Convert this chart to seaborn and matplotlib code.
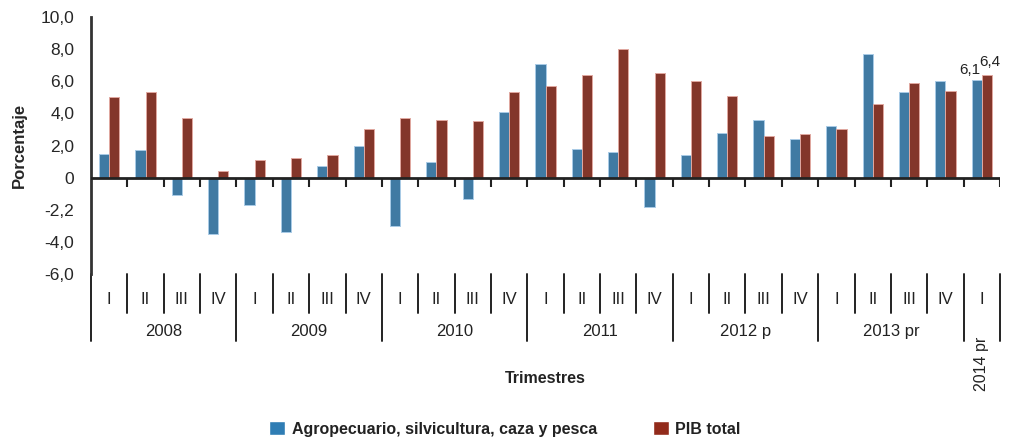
import numpy as np
import pandas as pd
import matplotlib
matplotlib.use("Agg")
import matplotlib.pyplot as plt
from matplotlib.patches import Patch
import seaborn as sns


# data
quarters = ["I", "II", "III", "IV"] * 6 + ["I"]
years = ["2008", "2009", "2010", "2011", "2012 p", "2013 pr", "2014 pr"]
agro = [1.5, 1.7, -1.1, -3.5, -1.7, -3.4, 0.7, 2.0,
        -3.0, 1.0, -1.3, 4.1, 7.1, 1.8, 1.6, -1.8,
        1.4, 2.8, 3.6, 2.4, 3.2, 7.7, 5.3, 6.0, 6.1]
pib = [5.0, 5.3, 3.7, 0.4, 1.1, 1.2, 1.4, 3.0,
       3.7, 3.6, 3.5, 5.3, 5.7, 6.4, 8.0, 6.5,
       6.0, 5.1, 2.6, 2.7, 3.0, 4.6, 5.9, 5.4, 6.4]
series_names = ["Agropecuario, silvicultura, caza y pesca", "PIB total"]
colors = ["#2f7db4", "#922b1b"]
edge_colors = ["#a9cbe6", "#e0a8a0"]
y_ticks = [-6, -4, -2, 0, 2, 4, 6, 8, 10]
y_tick_labels = ["-6,0", "-4,0", "-2,2", "0", "2,0", "4,0", "6,0", "8,0", "10,0"]

FONT = ["Liberation Sans Narrow", "Liberation Sans", "DejaVu Sans"]

sns.set_style("white")
plt.rcParams["font.family"] = FONT
plt.rcParams["text.color"] = "#222222"

n = len(agro)
labels = [f"q{i}" for i in range(n)]
df = pd.DataFrame({
    "x": labels * 2,
    "valor": agro + pib,
    "serie": [series_names[0]] * n + [series_names[1]] * n,
})

fig = plt.figure(figsize=(10.1, 4.4), dpi=100)
ax = fig.add_axes([91 / 1010, 1 - 274 / 440, (1000 - 91) / 1010, (274 - 17) / 440])

sns.barplot(data=df, x="x", y="valor", hue="serie", order=labels,
            palette=colors, width=0.56, gap=0, ax=ax, legend=False,
            linewidth=0.7)
# lighter outline like the original
for i, container in enumerate(ax.containers):
    for p in container:
        p.set_edgecolor(edge_colors[i])

ax.set_xlim(-0.5, n - 0.5)
ax.set_ylim(-6, 10)
ax.set_yticks(y_ticks)
ax.set_yticklabels(y_tick_labels, fontsize=12.5)
ax.tick_params(axis="y", direction="out", length=8, width=1.5, color="#333333", pad=4)
ax.set_xticks([])
ax.set_xlabel("")
ax.set_ylabel("Porcentaje", fontsize=12, fontweight="bold", labelpad=10)

for s in ["top", "right", "bottom"]:
    ax.spines[s].set_visible(False)
ax.spines["left"].set_color("#333333")
ax.spines["left"].set_linewidth(2)

# zero line and boundary ticks
ax.axhline(0, color="#222222", lw=2, zorder=3)
bounds = np.arange(-0.5, n, 1.0)
ax.vlines(bounds[1:], -0.56, 0, color="#222222", lw=1.5, zorder=3)

# category axis below the plot
tr = ax.get_xaxis_transform()
year_bounds = [-0.5, 3.5, 7.5, 11.5, 15.5, 19.5, 23.5, 24.5]
for b in np.arange(-0.5, n + 0.5, 1.0):
    if b in year_bounds:
        ax.plot([b, b], [0, -0.26], transform=tr, color="#222222", lw=1.4, clip_on=False)
    else:
        ax.plot([b, b], [0, -0.152], transform=tr, color="#222222", lw=1.4, clip_on=False)

for i, q in enumerate(quarters):
    ax.text(i, -0.10, q, transform=tr, ha="center", va="center", fontsize=12)

for k, y in enumerate(years):
    lo, hi = year_bounds[k], year_bounds[k + 1]
    if y == "2014 pr":
        ax.text((lo + hi) / 2, -0.35, y, transform=tr, ha="center", va="center",
                fontsize=11.5, rotation=90)
    else:
        ax.text((lo + hi) / 2, -0.225, y, transform=tr, ha="center", va="center",
                fontsize=12)

fig.text((91 + 1000) / 2 / 1010, 1 - 378 / 440, "Trimestres", ha="center", va="center",
         fontsize=11.5, fontweight="bold")

# value labels on the last quarter
ax.annotate(f"{agro[-1]:.1f}".replace(".", ","), (n - 1 - 0.14, agro[-1]),
            xytext=(-5, 7), textcoords="offset points", ha="center", va="center", fontsize=11)
ax.annotate(f"{pib[-1]:.1f}".replace(".", ","), (n - 1 + 0.14, pib[-1]),
            xytext=(2, 9), textcoords="offset points", ha="center", va="center", fontsize=11)

handles = [Patch(facecolor=c, label=l) for c, l in zip(colors, series_names)]
fig.legend(handles=handles, loc="center", bbox_to_anchor=(505 / 1010, 1 - 429 / 440),
           ncol=2, frameon=False, handlelength=1.0, handleheight=1.0,
           handletextpad=0.4, columnspacing=3.5,
           prop={"family": FONT, "weight": "bold", "size": 11.5})

fig.savefig("out.png", dpi=100)
